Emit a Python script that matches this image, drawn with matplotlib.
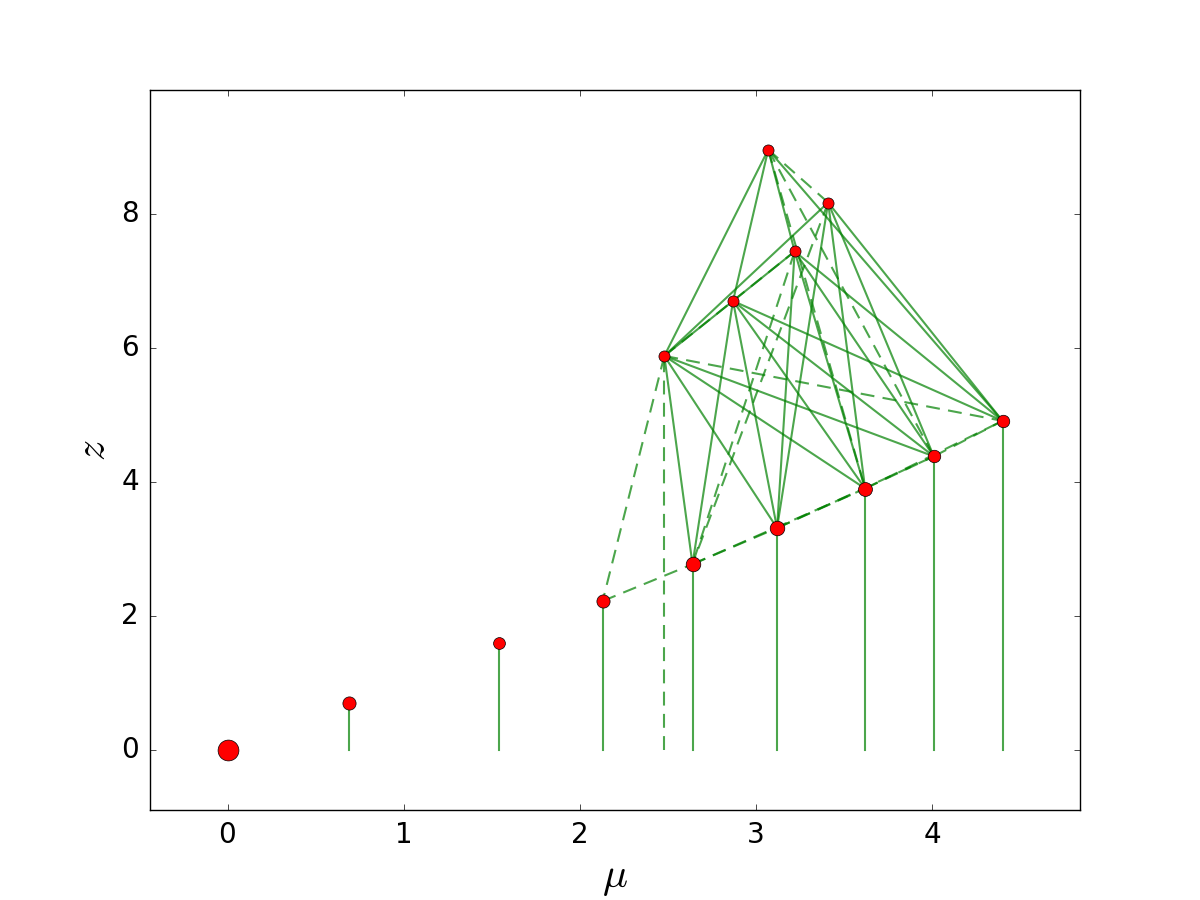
import matplotlib
matplotlib.use('Agg')
import matplotlib.pyplot as plt

plt.style.use('classic')

# node positions (mu, z)
names = ['B0', 'B1', 'B2', 'B3', 'B4', 'B5', 'B6', 'B7', 'B8',
         'U1', 'U2', 'U3', 'U4', 'U5']
mu = [0.0, 0.69, 1.54, 2.13, 2.64, 3.12, 3.62, 4.01, 4.40,
      2.48, 2.87, 3.22, 3.41, 3.07]
z = [0.0, 0.70, 1.59, 2.22, 2.77, 3.31, 3.90, 4.38, 4.91,
     5.88, 6.70, 7.44, 8.17, 8.96]
msize = [15, 9.5, 8.5, 9.5, 10.5, 10.5, 10, 9, 9,
         8, 8, 8, 8, 8]

# stems down to z = 0
solid_stems = ['B1', 'B2', 'B3', 'B4', 'B5', 'B6', 'B7', 'B8']
dashed_stems = ['U1']

solid_edges = [
    ('U1', 'U2'), ('U1', 'U4'), ('U1', 'U5'),
    ('U2', 'U3'), ('U2', 'U5'), ('U3', 'U5'),
    ('U1', 'B4'), ('U1', 'B5'), ('U1', 'B6'), ('U1', 'B7'),
    ('U2', 'B4'), ('U2', 'B5'), ('U2', 'B6'), ('U2', 'B7'), ('U2', 'B8'),
    ('U3', 'B5'), ('U3', 'B6'), ('U3', 'B7'), ('U3', 'B8'),
    ('U4', 'B5'), ('U4', 'B6'), ('U4', 'B7'), ('U4', 'B8'),
    ('U5', 'B8'),
]
dashed_edges = [
    ('U1', 'U3'), ('U4', 'U5'),
    ('U1', 'B3'), ('U1', 'B8'), ('U5', 'B7'), ('U5', 'B6'),
    ('U3', 'B4'), ('U4', 'B4'),
    ('B3', 'B4'), ('B4', 'B5'), ('B5', 'B6'), ('B6', 'B7'), ('B7', 'B8'),
    ('B4', 'B6'), ('B5', 'B7'), ('B6', 'B8'),
]

pos = {n: (x, y) for n, x, y in zip(names, mu, z)}

fig = plt.figure(figsize=(12, 9), dpi=100)
ax = fig.add_subplot(111)

line_kw = dict(color='g', alpha=0.7, lw=1.5)
dash = (10, 6)

for n in solid_stems:
    x, y = pos[n]
    ax.plot([x, x], [0, y], '-', **line_kw)
for n in dashed_stems:
    x, y = pos[n]
    ax.plot([x, x], [0, y], '--', dashes=dash, **line_kw)

for a, b in solid_edges:
    ax.plot([pos[a][0], pos[b][0]], [pos[a][1], pos[b][1]], '-', **line_kw)
for a, b in dashed_edges:
    ax.plot([pos[a][0], pos[b][0]], [pos[a][1], pos[b][1]], '--',
            dashes=dash, **line_kw)

for x, y, s in zip(mu, z, msize):
    ax.plot(x, y, 'o', color='r', markeredgecolor='k', markersize=s, zorder=5)

ax.set_xlim(-0.44, 4.84)
ax.set_ylim(-0.9, 9.85)
ax.set_xticks([0, 1, 2, 3, 4])
ax.set_yticks([0, 2, 4, 6, 8])
ax.tick_params(labelsize=20, pad=8)
ax.set_xlabel(r'$\mu$', fontsize=30)
ax.set_ylabel(r'$z$', fontsize=30)

fig.savefig('out.png', dpi=100, facecolor='white')
